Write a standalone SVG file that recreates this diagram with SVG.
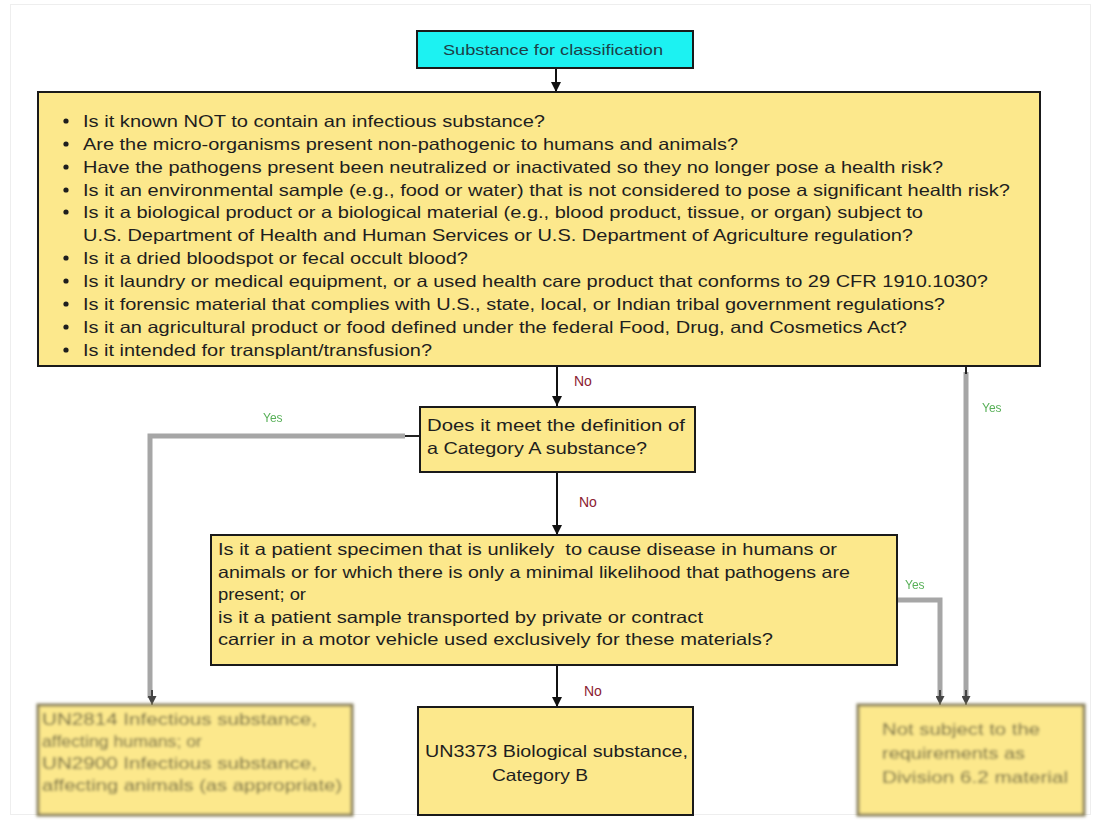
<svg xmlns="http://www.w3.org/2000/svg" width="1096" height="821" viewBox="0 0 1096 821">
<defs>
<style>
.t{font-family:"Liberation Sans",Arial,sans-serif;font-size:16.5px;fill:#1e1e1e}
.box{fill:#fce88c;stroke:#1a1a1a;stroke-width:2}
.no{font-family:"Liberation Sans",Arial,sans-serif;font-size:14px;fill:#8b2232}
.yes{font-family:"Liberation Sans",Arial,sans-serif;font-size:12px;fill:#58b058}
.ar{stroke:#111;stroke-width:2;fill:none}
.gl{stroke:#a6a6a6;stroke-width:5;fill:none}
.bt{font-family:"Liberation Sans",Arial,sans-serif;font-size:16.5px;fill:#6a6440}
</style>
<marker id="ah" viewBox="0 0 10 10" refX="10" refY="5" markerWidth="10" markerHeight="11" markerUnits="userSpaceOnUse" orient="auto"><path d="M0,0 L10,5 L0,10 z" fill="#111"/></marker>
<marker id="gh" viewBox="0 0 10 10" refX="10" refY="5" markerWidth="9" markerHeight="9" markerUnits="userSpaceOnUse" orient="auto"><path d="M0,0 L10,5 L0,10 z" fill="#444"/></marker>
<filter id="blur" x="-10%" y="-20%" width="120%" height="140%"><feGaussianBlur stdDeviation="1.5"/></filter>
<filter id="blur2" x="-20%" y="-20%" width="140%" height="140%"><feGaussianBlur stdDeviation="0.7"/></filter>
</defs>
<rect x="0" y="0" width="1096" height="821" fill="#fff"/>
<rect x="10.5" y="4.5" width="1080" height="810" fill="none" stroke="#eeeeee" stroke-width="1"/>

<g id="connectors">
<line class="ar" x1="556" y1="68" x2="556" y2="92" marker-end="url(#ah)"/>
<line class="ar" x1="557" y1="366" x2="557" y2="406" marker-end="url(#ah)"/>
<line class="ar" x1="557" y1="472" x2="557" y2="535" marker-end="url(#ah)"/>
<line class="ar" x1="557" y1="664" x2="557" y2="707" marker-end="url(#ah)"/>
<g filter="url(#blur2)">
<polyline class="gl" points="405,436 150,436 150,698"/>
<line x1="405" y1="436" x2="420" y2="436" stroke="#222" stroke-width="2"/>
<line x1="152" y1="690" x2="152" y2="705" stroke="#444" stroke-width="2" marker-end="url(#gh)"/>
<line class="gl" x1="966" y1="372" x2="966" y2="698"/>
<line x1="966" y1="366" x2="966" y2="374" stroke="#222" stroke-width="2"/>
<line x1="966" y1="690" x2="966" y2="705" stroke="#444" stroke-width="2" marker-end="url(#gh)"/>
<polyline class="gl" points="897,600 940,600 940,698"/>
<line x1="940" y1="690" x2="940" y2="705" stroke="#444" stroke-width="2" marker-end="url(#gh)"/>
</g>
<text class="no" x="574" y="386">No</text>
<text class="no" x="579" y="507">No</text>
<text class="no" x="584" y="696">No</text>
<g filter="url(#blur2)">
<text class="yes" x="263" y="422">Yes</text>
<text class="yes" x="982" y="412">Yes</text>
<text class="yes" x="905" y="589">Yes</text>
</g>
</g>

<g id="start">
<rect x="417" y="31" width="276" height="37" fill="#1cf2f2" stroke="#1a1a1a" stroke-width="2"/>
<text x="443" y="55" textLength="220" lengthAdjust="spacingAndGlyphs" style="font-family:'Liberation Sans',Arial,sans-serif;font-size:15px;fill:#1d4048">Substance for classification</text>
</g>

<g id="exceptions">
<rect class="box" x="38" y="92" width="1002" height="274"/>
<g fill="#1e1e1e">
<circle cx="66" cy="121" r="2.6"/><circle cx="66" cy="144" r="2.6"/><circle cx="66" cy="167" r="2.6"/><circle cx="66" cy="190" r="2.6"/><circle cx="66" cy="212" r="2.6"/><circle cx="66" cy="258" r="2.6"/><circle cx="66" cy="281" r="2.6"/><circle cx="66" cy="304" r="2.6"/><circle cx="66" cy="327" r="2.6"/><circle cx="66" cy="350" r="2.6"/>
</g>
<text class="t" x="83" y="127" textLength="462" lengthAdjust="spacingAndGlyphs">Is it known NOT to contain an infectious substance?</text>
<text class="t" x="83" y="150" textLength="655" lengthAdjust="spacingAndGlyphs">Are the micro-organisms present non-pathogenic to humans and animals?</text>
<text class="t" x="83" y="173" textLength="860" lengthAdjust="spacingAndGlyphs">Have the pathogens present been neutralized or inactivated so they no longer pose a health risk?</text>
<text class="t" x="83" y="196" textLength="927" lengthAdjust="spacingAndGlyphs">Is it an environmental sample (e.g., food or water) that is not considered to pose a significant health risk?</text>
<text class="t" x="83" y="218" textLength="840" lengthAdjust="spacingAndGlyphs">Is it a biological product or a biological material (e.g., blood product, tissue, or organ) subject to</text>
<text class="t" x="83" y="241" textLength="830" lengthAdjust="spacingAndGlyphs">U.S. Department of Health and Human Services or U.S. Department of Agriculture regulation?</text>
<text class="t" x="83" y="264" textLength="385" lengthAdjust="spacingAndGlyphs">Is it a dried bloodspot or fecal occult blood?</text>
<text class="t" x="83" y="287" textLength="905" lengthAdjust="spacingAndGlyphs">Is it laundry or medical equipment, or a used health care product that conforms to 29 CFR 1910.1030?</text>
<text class="t" x="83" y="310" textLength="862" lengthAdjust="spacingAndGlyphs">Is it forensic material that complies with U.S., state, local, or Indian tribal government regulations?</text>
<text class="t" x="83" y="333" textLength="824" lengthAdjust="spacingAndGlyphs">Is it an agricultural product or food defined under the federal Food, Drug, and Cosmetics Act?</text>
<text class="t" x="83" y="356" textLength="349" lengthAdjust="spacingAndGlyphs">Is it intended for transplant/transfusion?</text>
</g>

<g id="categoryA">
<rect class="box" x="420" y="407" width="275" height="65"/>
<text class="t" x="427" y="431" textLength="258" lengthAdjust="spacingAndGlyphs">Does it meet the definition of</text>
<text class="t" x="427" y="454" textLength="220" lengthAdjust="spacingAndGlyphs">a Category A substance?</text>
</g>

<g id="patient">
<rect class="box" x="211" y="535" width="686" height="130"/>
<text class="t" x="218" y="555" textLength="619" lengthAdjust="spacingAndGlyphs" xml:space="preserve">Is it a patient specimen that is unlikely  to cause disease in humans or</text>
<text class="t" x="218" y="578" textLength="632" lengthAdjust="spacingAndGlyphs">animals or for which there is only a minimal likelihood that pathogens are</text>
<text class="t" x="218" y="600" textLength="88" lengthAdjust="spacingAndGlyphs">present; or</text>
<text class="t" x="218" y="623" textLength="485" lengthAdjust="spacingAndGlyphs">is it a patient sample transported by private or contract</text>
<text class="t" x="218" y="645" textLength="555" lengthAdjust="spacingAndGlyphs">carrier in a motor vehicle used exclusively for these materials?</text>
</g>

<g id="categoryB">
<rect class="box" x="418" y="707" width="275" height="108"/>
<text class="t" x="425" y="757" textLength="263" lengthAdjust="spacingAndGlyphs">UN3373 Biological substance,</text>
<text class="t" x="492" y="781" textLength="96" lengthAdjust="spacingAndGlyphs">Category B</text>
</g>

<g id="infectious" filter="url(#blur)">
<rect x="38" y="705" width="314" height="110" fill="#fce88c" stroke="#857c58" stroke-width="3"/>
<text class="bt" x="42" y="725" textLength="275" lengthAdjust="spacingAndGlyphs">UN2814 Infectious substance,</text>
<text class="bt" x="42" y="747" textLength="160" lengthAdjust="spacingAndGlyphs">affecting humans; or</text>
<text class="bt" x="42" y="769" textLength="275" lengthAdjust="spacingAndGlyphs">UN2900 Infectious substance,</text>
<text class="bt" x="42" y="791" textLength="300" lengthAdjust="spacingAndGlyphs">affecting animals (as appropriate)</text>
</g>

<g id="notsubject" filter="url(#blur)">
<rect x="858" y="705" width="226" height="110" fill="#fce88c" stroke="#857c58" stroke-width="3"/>
<text class="bt" x="882" y="735" textLength="158" lengthAdjust="spacingAndGlyphs">Not subject to the</text>
<text class="bt" x="882" y="759" textLength="143" lengthAdjust="spacingAndGlyphs">requirements as</text>
<text class="bt" x="882" y="783" textLength="186" lengthAdjust="spacingAndGlyphs">Division 6.2 material</text>
</g>
</svg>
